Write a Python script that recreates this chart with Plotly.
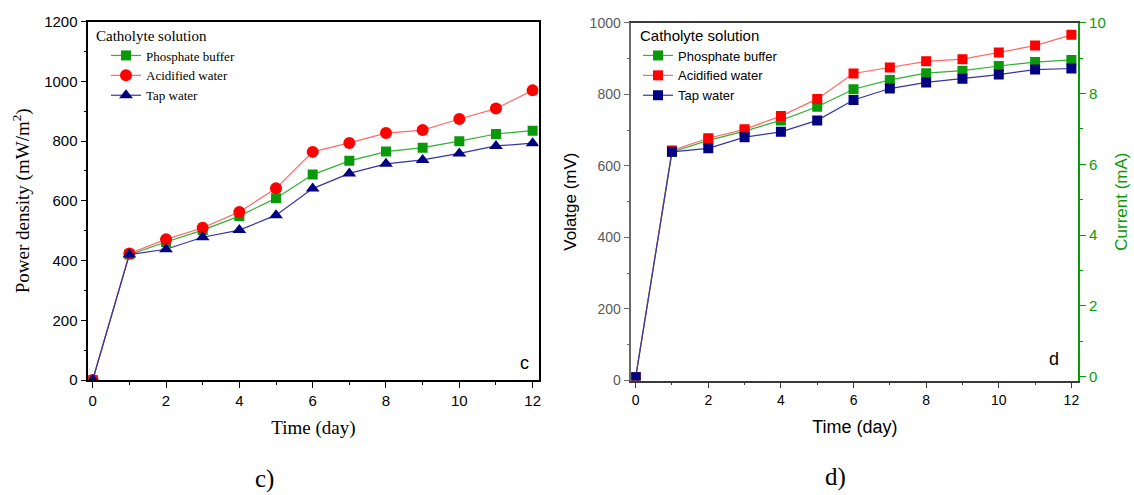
import plotly.graph_objects as go

days = [0, 1, 2, 3, 4, 5, 6, 7, 8, 9, 10, 11, 12]

# Panel c: power density (mW/m2)
pd_phosphate = [0, 420, 462, 502, 549, 609, 688, 734, 765, 778, 800, 824, 835]
pd_acidified = [0, 424, 471, 510, 563, 642, 764, 794, 827, 837, 874, 909, 970]
pd_tap = [0, 420, 438, 478, 502, 552, 641, 692, 724, 737, 759, 784, 793]

# Panel d: voltage (mV)
v_phosphate = [9, 639, 671, 697, 727, 765, 814, 840, 859, 866, 879, 890, 896]
v_acidified = [9, 643, 677, 702, 739, 787, 858, 875, 892, 898, 917, 936, 966]
v_tap = [9, 639, 649, 680, 695, 727, 784, 816, 833, 843, 855, 869, 872]

names = ["Phosphate buffer", "Acidified water", "Tap water"]
marker_cols = ["#0a990a", "#ff0000", "#000080"]
line_cols = ["#33b033", "#ff6a6a", "#3535a5"]

SERIF = "Liberation Serif"
SANS = "Liberation Sans"
W, H = 1134, 495

fig = go.Figure()

left_syms = ["square", "circle", "triangle-up"]
left_sizes = [10, 12, 12]
for name, ys, mc, lc, sym, sz in zip(names, [pd_phosphate, pd_acidified, pd_tap],
                                     marker_cols, line_cols, left_syms, left_sizes):
    fig.add_trace(go.Scatter(
        x=days, y=ys, name=name, mode="lines+markers",
        line=dict(color=lc, width=1.2),
        marker=dict(symbol=sym, size=sz, color=mc),
        xaxis="x", yaxis="y", legend="legend"))

for name, ys, mc, lc in zip(names, [v_phosphate, v_acidified, v_tap], marker_cols, line_cols):
    fig.add_trace(go.Scatter(
        x=days, y=ys, name=name, mode="lines+markers",
        line=dict(color=lc, width=1.2),
        marker=dict(symbol="square", size=10, color=mc),
        xaxis="x2", yaxis="y2", legend="legend2"))

# empty trace to bind the current axis
fig.add_trace(go.Scatter(x=[None], y=[None], xaxis="x2", yaxis="y3", showlegend=False,
                         hoverinfo="skip", mode="markers"))

def px_x(p):
    return p / W

def px_y(p):
    return 1 - p / H

tickfont_l = dict(family=SANS, size=15, color="black")

def note(text, x, y, family, size):
    return dict(text=text, x=px_x(x), y=px_y(y), xref="paper", yref="paper", showarrow=False,
                xanchor="center", yanchor="middle", borderpad=0,
                font=dict(family=family, size=size, color="black"))

fig.update_layout(
    width=W, height=H, autosize=False,
    margin=dict(l=0, r=0, t=0, b=0, pad=0),
    paper_bgcolor="white", plot_bgcolor="white",
    xaxis=dict(domain=[px_x(88.3), px_x(538.5)], range=[-0.12, 12.16], anchor="y", automargin=False,
               showline=True, linecolor="black", linewidth=1.5, mirror=True,
               showgrid=False, zeroline=False, ticks="outside", ticklen=6, tickwidth=1.2,
               tickcolor="black", dtick=2, tick0=0,
               minor=dict(ticks="outside", dtick=1, ticklen=3, tickcolor="black"),
               tickfont=tickfont_l,
               title=dict(text="Time (day)", font=dict(family=SERIF, size=19, color="black"), standoff=13)),
    yaxis=dict(domain=[px_y(380), px_y(21.7)], range=[0, 1200], anchor="x", automargin=False,
               showline=True, linecolor="black", linewidth=1.5, mirror=True,
               showgrid=False, zeroline=False, ticks="outside", ticklen=6, tickwidth=1.2,
               tickcolor="black", dtick=200, tick0=0,
               minor=dict(ticks="outside", dtick=100, ticklen=3, tickcolor="black"),
               tickfont=tickfont_l,
               title=dict(text="Power density (mW/m<sup>2</sup>)", font=dict(family=SERIF, size=19, color="black"), standoff=10)),
    xaxis2=dict(domain=[px_x(631.3), px_x(1078.3)], range=[-0.12, 12.19], anchor="y2", automargin=False,
                showline=True, linecolor="#3a3a3a", linewidth=1.5, mirror=True,
                showgrid=False, zeroline=False, ticks="outside", ticklen=6, tickwidth=1.2,
                tickcolor="#3a3a3a", dtick=2, tick0=0,
                minor=dict(ticks="outside", dtick=1, ticklen=3, tickcolor="#3a3a3a"),
                tickfont=dict(family=SANS, size=14, color="black"),
                title=dict(text="Time (day)", font=dict(family=SANS, size=18, color="black"), standoff=13)),
    yaxis2=dict(domain=[px_y(380.5), px_y(22.7)], range=[0, 1000], anchor="x2", automargin=False,
                showline=True, linecolor="#6a6a6a", linewidth=1.5, mirror=False,
                showgrid=False, zeroline=False, ticks="outside", ticklen=6, tickwidth=1.2,
                tickcolor="#6a6a6a", dtick=200, tick0=0,
                minor=dict(ticks="outside", dtick=100, ticklen=3, tickcolor="#6a6a6a"),
                tickfont=dict(family=SANS, size=14, color="#5a5a5a"),
                title=dict(text="Volatge (mV)", font=dict(family=SANS, size=17, color="black"), standoff=9)),
    yaxis3=dict(overlaying="y2", side="right", anchor="x2", range=[-0.107, 10], automargin=False,
                showline=True, linecolor="#0a9a0a", linewidth=1.5,
                showgrid=False, zeroline=False, ticks="outside", ticklen=6, tickwidth=1.2,
                tickcolor="#0a9a0a", dtick=2, tick0=0,
                minor=dict(ticks="outside", dtick=1, ticklen=3, tickcolor="#0a9a0a"),
                tickfont=dict(family=SANS, size=15, color="#0a9a0a"),
                title=dict(text="Current (mA)", font=dict(family=SANS, size=17, color="#0a9a0a"), standoff=10)),
    legend=dict(x=px_x(94), y=px_y(21), xanchor="left", yanchor="top",
                bgcolor="rgba(0,0,0,0)", borderwidth=0, indentation=12,
                font=dict(family=SERIF, size=13, color="black"),
                title=dict(text="Catholyte solution", font=dict(family=SERIF, size=15, color="black"))),
    legend2=dict(x=px_x(638), y=px_y(21), xanchor="left", yanchor="top",
                 bgcolor="rgba(0,0,0,0)", borderwidth=0,
                 font=dict(family=SANS, size=13, color="black"),
                 title=dict(text="Catholyte solution", font=dict(family=SANS, size=15, color="black"))),
    annotations=[
        note("c", 524, 363, SANS, 18),
        note("d", 1054, 359, SANS, 18),
        note("c)", 264, 479, SERIF, 25),
        note("d)", 835, 477, SERIF, 25),
    ],
)

fig.write_html("out.html", post_script="document.body.style.margin='0';document.body.style.padding='0';")
